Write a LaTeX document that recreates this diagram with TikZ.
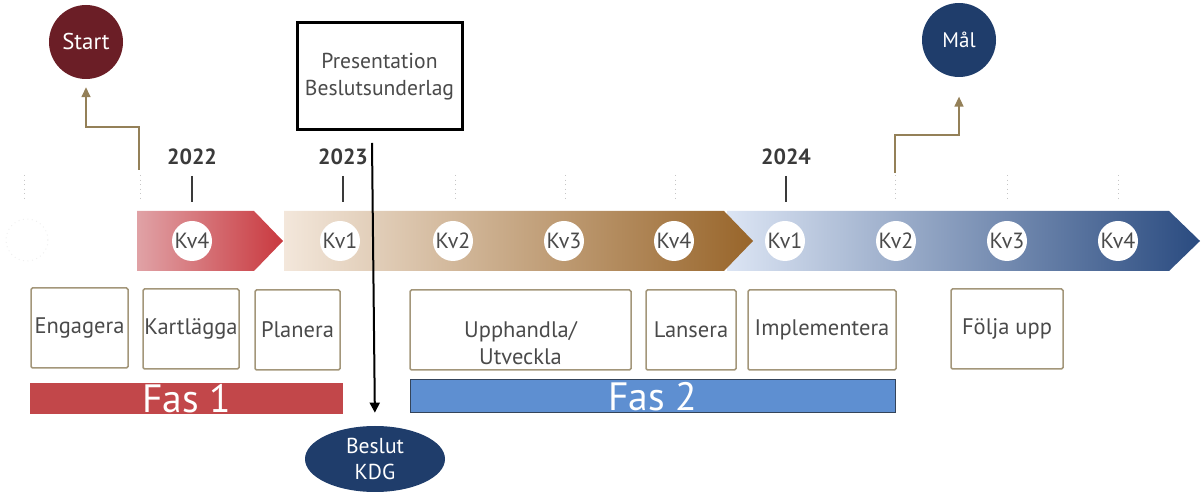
\documentclass[tikz,border=0pt]{standalone}
\usepackage{fontspec}
\setmainfont{PT Sans}
\usetikzlibrary{arrows.meta,shapes.geometric}
\definecolor{startred}{HTML}{6B1E26}
\definecolor{malblue}{HTML}{1F3D6B}
\definecolor{seginn}{HTML}{E0A2A6}
\definecolor{segut}{HTML}{C9393F}
\definecolor{brunlys}{HTML}{F3E7DB}
\definecolor{brunmid}{HTML}{D9BFA3}
\definecolor{brunmork}{HTML}{98652A}
\definecolor{blalys}{HTML}{DCE5F4}
\definecolor{blamork}{HTML}{2A4B80}
\definecolor{fasrod}{HTML}{C2474A}
\definecolor{fasbla}{HTML}{5E8FD1}
\definecolor{faskant}{HTML}{34445A}
\definecolor{boxline}{HTML}{A3967A}
\definecolor{textgray}{HTML}{4A4A4A}
\definecolor{yeargray}{HTML}{3A3A3A}
\definecolor{pilbrun}{HTML}{948058}
\newlength\px
\setlength\px{0.02cm}
\begin{document}
\begin{tikzpicture}[x=0.02cm,y=-0.02cm,
  boks/.style={draw=boxline, line width=1.5\px, rounded corners=1.5\px, minimum height=80\px,
    inner sep=0pt, text=textgray, font=\fontsize{12.8}{15.3}\selectfont, align=center},
  kv/.style={circle, fill=white, minimum size=40\px, inner sep=0pt, text=textgray,
    font=\fontsize{12.5}{14}\selectfont},
  aar/.style={text=yeargray, font=\bfseries\fontsize{12.5}{14}\selectfont},
  maalpunkt/.style={circle, minimum size=74\px, inner sep=0pt, text=white},
  pil/.style={draw=pilbrun, line width=1.3\px, -{Triangle[width=5.1pt,length=5.6pt]}},
  prikk/.style={draw=gray!45, line width=1\px, dotted},
  fas/.style={minimum height=31\px, inner sep=0pt, text=white, font=\fontsize{22.5}{22}\selectfont}]
\useasboundingbox (0,0) rectangle (1202,492);

% start og mal
\node[maalpunkt, fill=startred, font=\fontsize{13}{14}\selectfont] (start) at (86,42) {Start};
\node[maalpunkt, fill=malblue, font=\fontsize{12}{14}\selectfont] (mal) at (959,40) {Mål};
\coordinate (startfoot) at (139,170);
\coordinate (malfoot) at (895,173);
\draw[pil, shorten >=4.5pt] (startfoot) -- (139,127) -| (start);
\draw[pil, shorten >=11pt] (malfoot) -- (895,135) -| (mal);

% presentation og beslut
\node[draw=black, line width=3\px, minimum width=165\px, minimum height=107\px, align=center,
  text=textgray, font=\fontsize{12.3}{15.3}\selectfont] (pres) at (379.5,76.5) {Presentation\\Beslutsunderlag};
\node[ellipse, fill=malblue, minimum width=140\px, minimum height=66\px, inner sep=0pt, align=center,
  text=white, font=\fontsize{12.3}{15.3}\selectfont] (beslut) at (375,459) {Beslut\\KDG};
\coordinate (presfoot) at (372,143);

% tidslinje
\draw[gray!12, dotted, line width=1\px] (27,240) circle[radius=21\px];
\foreach \x in {24,140,455,565,675,895,1007,1118}
  \draw[prikk] (\x,175) -- (\x,201);
\foreach \x/\ar in {192/2022,343/2023,786/2024}{
  \draw[yeargray, line width=2.2\px] (\x,176) -- (\x,202);
  \node[aar] (ar\ar) at (\x,157) {\ar};
}
\shade[left color=blalys, right color=blamork] (727,211) -- (1169,211) -- (1200,241) -- (1169,271) -- (727,271) -- cycle;
\shade[left color=brunlys, middle color=brunmid, right color=brunmork] (284,211) -- (724,211) -- (753,241) -- (724,271) -- (284,271) -- cycle;
\shade[left color=seginn, right color=segut] (137,211) -- (254,211) -- (283,241) -- (254,271) -- (137,271) -- cycle;
\foreach \x/\q in {192/4,340/1,453/2,564/3,674/4,785/1,896/2,1007/3,1118/4}
  \node[kv] (kv\x) at (\x,241) {Kv\q};

\draw[black, line width=2\px, -{Triangle[width=5.7pt,length=5.7pt]}, shorten >=7.4pt] (presfoot) -- (beslut.north);

% aktiviteter
\node[boks, minimum width=97\px] (engagera) at (79.5,328) {Engagera};
\node[boks, minimum width=96\px] (kartlagga) at (191,329) {Kartlägga};
\node[boks, minimum width=85\px] (planera) at (297.5,330) {Planera};
\node[boks, minimum width=221\px, label={[yshift=-13\px, align=center, text=textgray,
  font=\fontsize{12.8}{15.3}\selectfont]center:Upphandla/\\Utveckla}] (upphandla) at (520.5,330) {};
\node[boks, minimum width=90\px] (lansera) at (691,330) {Lansera};
\node[boks, minimum width=148\px] (implementera) at (822,330) {Implementera};
\node[boks, minimum width=112\px] (folja) at (1007,329) {Följa upp};

% faser
\node[fas, fill=fasrod, minimum width=313\px] (fas1) at (186.5,399) {Fas 1};
\node[fas, fill=fasbla, draw=faskant, line width=1\px, minimum width=485\px, minimum height=33\px] (fas2) at (652.5,396.5) {Fas 2};
\end{tikzpicture}
\end{document}
